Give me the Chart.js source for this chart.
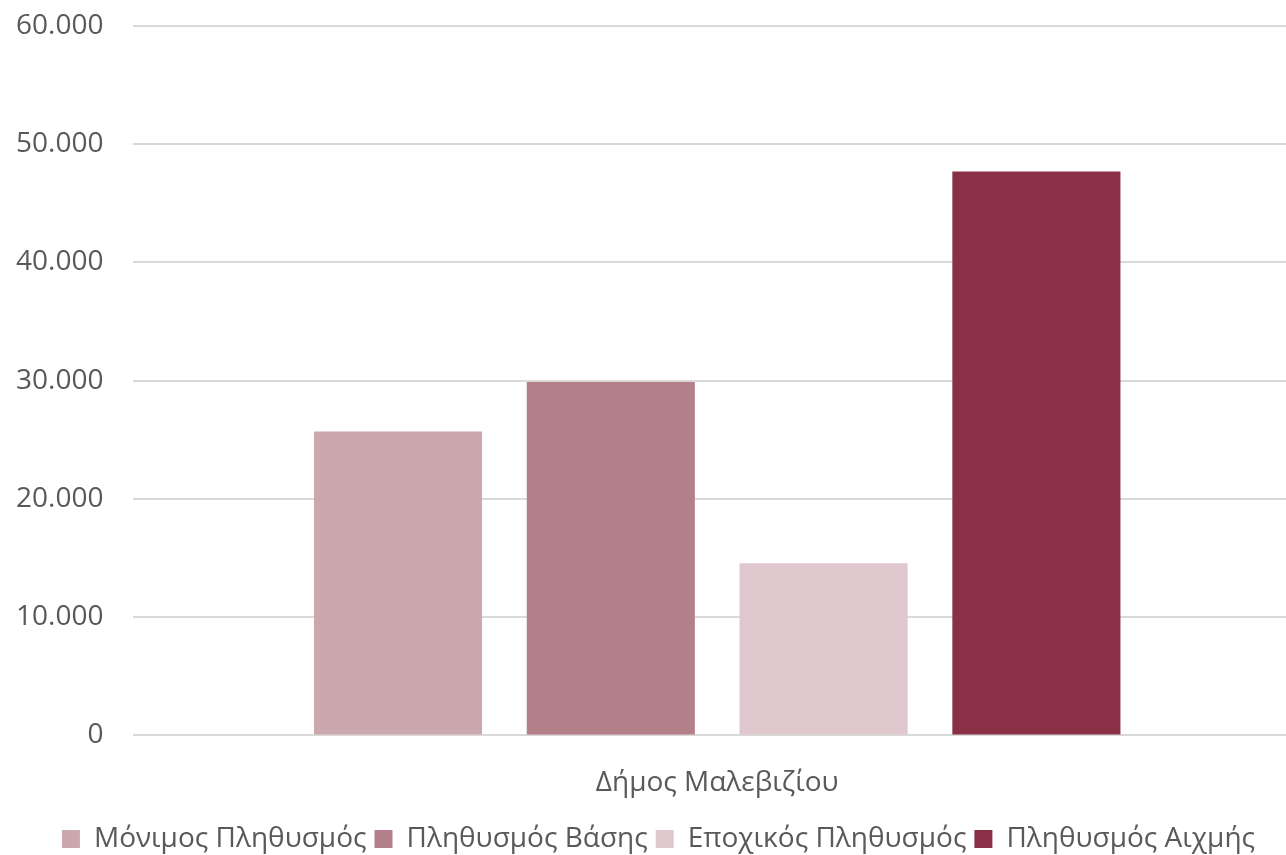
<!DOCTYPE html>
<html>
<head>
<meta charset="utf-8">
<script src="https://cdn.jsdelivr.net/npm/chart.js@4"></script>
<style>
  html, body { margin: 0; padding: 0; background: #fff; overflow: hidden; }
  #wrap { width: 1286px; height: 855px; overflow: hidden; }
</style>
</head>
<body>
<div id="wrap"><canvas id="popChart" width="1301" height="855"></canvas></div>
<script>
'use strict';

const categories = ['Δήμος Μαλεβιζίου'];
const seriesNames = ['Μόνιμος Πληθυσμός', 'Πληθυσμός Βάσης', 'Εποχικός Πληθυσμός', 'Πληθυσμός Αιχμής'];
const seriesValues = [[25700], [29900], [14550], [47700]];
const seriesColors = ['#CBA7AE', '#B3808A', '#DFC8CD', '#893046'];
const yTicks = [0, 10000, 20000, 30000, 40000, 50000, 60000];

const fontFamily = '"Open Sans", sans-serif';
const textColor = '#595959';

function formatThousands(v) {
    return String(v).replace(/\B(?=(\d{3})+(?!\d))/g, '.');
}

// the plot runs a little past the right edge of the picture, as in the original
const ctx = document.getElementById('popChart').getContext('2d');
const popChart = new Chart(ctx, {
    type: 'bar',
    data: {
    labels: categories,
    datasets: seriesNames.map((name, i) => ({
        label: name,
        data: seriesValues[i],
        backgroundColor: seriesColors[i],
        borderWidth: 0,
        categoryPercentage: 0.729,
        barPercentage: 0.79
    }))
    },
    options: {
    responsive: false,
    animation: false,
    layout: {
        padding: { top: 26, right: 0, left: 16, bottom: -8 }
    },
    plugins: {
        legend: {
        position: 'bottom',
        labels: {
            color: textColor,
            font: { family: fontFamily, size: 28 },
            boxWidth: 18,
            boxHeight: 18,
            padding: 8
        }
        },
        tooltip: { enabled: false }
    },
    scales: {
        x: {
        afterFit: (axis) => { axis.height += 17; },
        grid: { color: 'transparent', tickColor: 'transparent', drawTicks: true, tickLength: 31 },
        border: { display: false },
        ticks: {
            color: textColor,
            font: { family: fontFamily, size: 28 },
            padding: 0
        }
        },
        y: {
        min: 0,
        max: 60000,
        afterBuildTicks: (axis) => { axis.ticks = yTicks.map(v => ({ value: v })); },
        grid: { color: '#D9D9D9', lineWidth: 2, drawTicks: true, tickLength: 30, tickColor: 'transparent' },
        border: { display: false },
        ticks: {
            color: textColor,
            font: { family: fontFamily, size: 28 },
            padding: 0,
            callback: (v) => formatThousands(v)
        }
        }
    }
    }
});
</script>
</body>
</html>
